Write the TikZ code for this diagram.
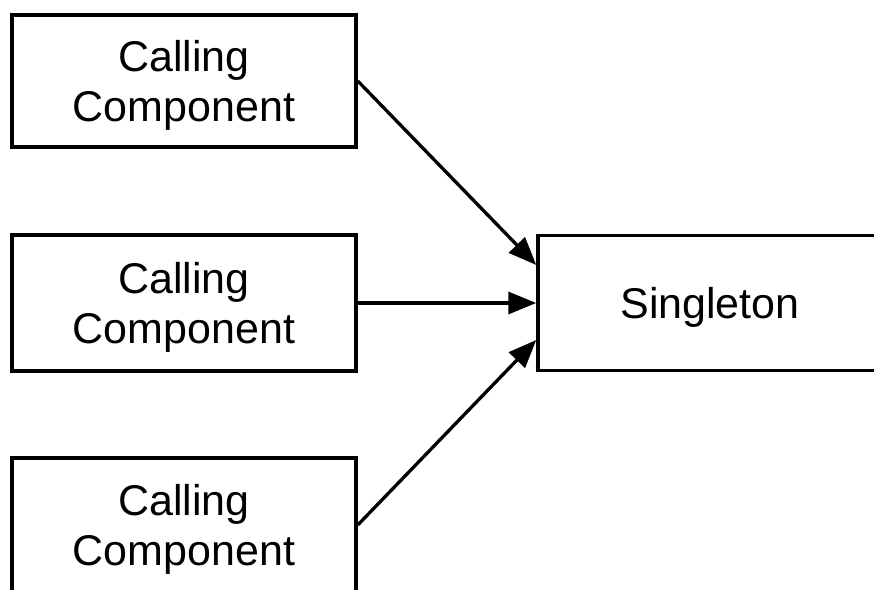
\documentclass[tikz,border=0pt]{standalone}
\usepackage{fontspec}
\setmainfont{Liberation Sans}
\usetikzlibrary{arrows.meta,calc}

\tikzset{
  compbox/.style={draw=black, line width=3.5pt, fill=white,
    minimum width=344pt, minimum height=134pt, inner sep=0pt},
  boxtext/.style={align=center, inner sep=0pt,
    font=\fontsize{43}{50}\selectfont},
  callarrow/.style={line width=3.3pt, -{Triangle[length=28pt,width=22pt]}}
}

\begin{document}
\begin{tikzpicture}[x=1pt, y=-1pt]
  % page frame
  \useasboundingbox (0,0) rectangle (874,589);
  \clip (0,0) rectangle (874,589);
  \fill[white] (0,0) rectangle (874,589);

  % calling components on the left
  \node[compbox, minimum height=132pt] (c1) at (184,81)  {};
  \node[compbox, minimum height=136pt] (c2) at (184,303) {};
  \node[compbox] (c3) at (184,525) {};
  \node[boxtext] (t1) at ($(c1.center)+(0,-4pt)$) {Calling\\Component};
  \node[boxtext] (t2) at ($(c2.center)+(0,-4pt)$) {Calling\\Component};
  \node[boxtext] (t3) at ($(c3.center)+(0,-4pt)$) {Calling\\Component};

  % the singleton
  \node[compbox, minimum height=135pt] (s) at (710,303) {};
  \node[boxtext] (ts) at ($(s.center)+(0,-4pt)$) {Singleton};

  % calls into the singleton
  \draw[callarrow] (c1.east) -- ($(s.west)+(0,38pt)$);
  \draw[callarrow] (c2.east) -- (s.west);
  \draw[callarrow] (c3.east) -- ($(s.west)+(0,-37pt)$);
\end{tikzpicture}
\end{document}
